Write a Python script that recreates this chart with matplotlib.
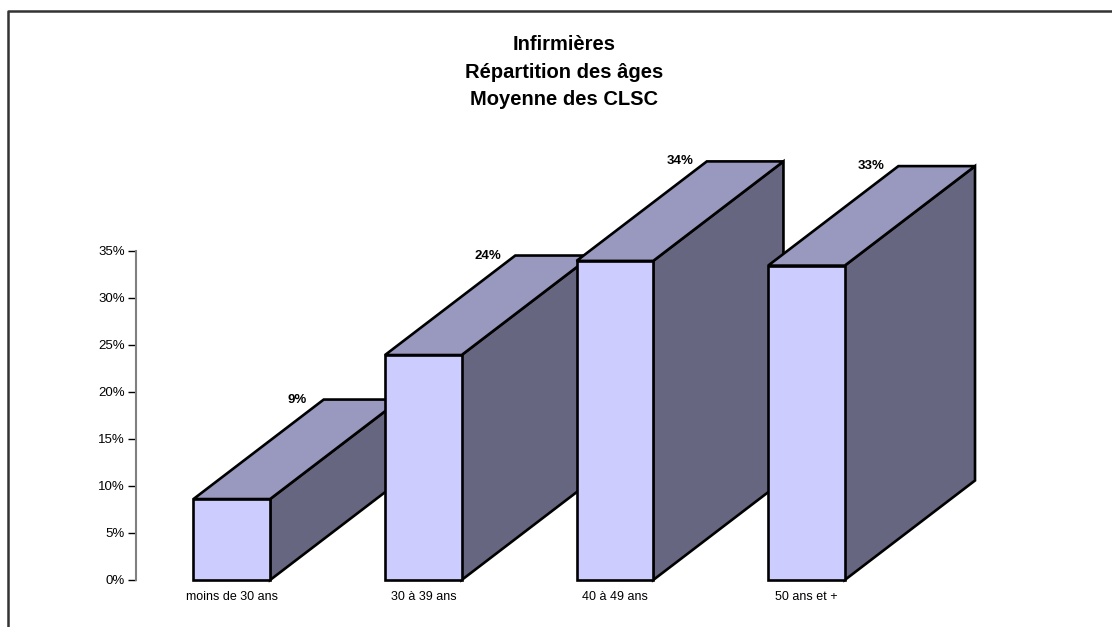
import matplotlib
matplotlib.use("Agg")
import matplotlib.pyplot as plt
from matplotlib.patches import Polygon
from matplotlib.lines import Line2D
from matplotlib.ticker import FuncFormatter

plt.rcParams['font.family'] = ['Liberation Sans', 'DejaVu Sans']

# Age groups and share of nurses (%)
categories = ["moins de 30 ans", "30 à 39 ans", "40 à 49 ans", "50 ans et +"]
shares = [8.6, 23.9, 33.9, 33.4]
title_lines = ["Infirmières", "Répartition des âges", "Moyenne des CLSC"]

FRONT = "#ccccff"
TOP = "#9999bf"
SIDE = "#666680"

W, H, DPI = 1112, 627, 100
fig = plt.figure(figsize=(W / DPI, H / DPI), dpi=DPI)
ax = fig.add_axes([136 / W, 47 / H, 862 / W, 433 / H])
ax.set_xlim(-0.5, 4.0)
ax.set_ylim(0, 46)

# 3D look: box width and depth offset in data units
width = 0.40
depth_x = 0.68
depth_y = 10.57

for i, (name, value) in enumerate(zip(categories, shares)):
    x0, x1 = i - width / 2, i + width / 2
    z = 3 + i
    style = dict(edgecolor="black", linewidth=1.9, joinstyle="miter", clip_on=False, zorder=z)
    side = [(x1, 0), (x1 + depth_x, depth_y), (x1 + depth_x, value + depth_y), (x1, value)]
    top = [(x0, value), (x1, value), (x1 + depth_x, value + depth_y), (x0 + depth_x, value + depth_y)]
    front = [(x0, 0), (x1, 0), (x1, value), (x0, value)]
    ax.add_patch(Polygon(side, closed=True, facecolor=SIDE, **style))
    ax.add_patch(Polygon(top, closed=True, facecolor=TOP, **style))
    ax.add_patch(Polygon(front, closed=True, facecolor=FRONT, **style))
    ax.annotate(f"{value:.0f}%", xy=(x0 + depth_x, value + depth_y), xytext=(-27, 0),
                textcoords="offset pixels", ha="center", va="center",
                fontsize=9.5, fontweight="bold", zorder=20)
    ax.annotate(name, xy=(i, 0), xytext=(0, -11), textcoords="offset pixels",
                ha="center", va="top", fontsize=9)

# Only the left axis is shown, running 0-35 %
for s in ("top", "right", "bottom"):
    ax.spines[s].set_visible(False)
ax.spines["left"].set_bounds(0, 35)
ax.spines["left"].set_color("#808080")
ax.spines["left"].set_linewidth(1.5)
ax.set_yticks(range(0, 36, 5))
ax.yaxis.set_major_formatter(FuncFormatter(lambda v, p: f"{v:.0f}%"))
ax.tick_params(axis="y", length=6, width=1, color="black", pad=2, labelsize=9.5)
ax.set_xticks([])
ax.patch.set_alpha(0)

for k, line in enumerate(title_lines):
    fig.text(564 / W, 1 - (50 + 27.5 * k) / H, line, ha="center", va="baseline",
             fontsize=14.5, fontweight="bold")

# Frame around the chart area (left and top edges)
fig.add_artist(Line2D([8 / W, 8 / W, 1.0], [0.0, 1 - 11 / H, 1 - 11 / H],
                      transform=fig.transFigure, color="#333333", linewidth=1.8))

fig.savefig("out.png", dpi=DPI, facecolor="white")
